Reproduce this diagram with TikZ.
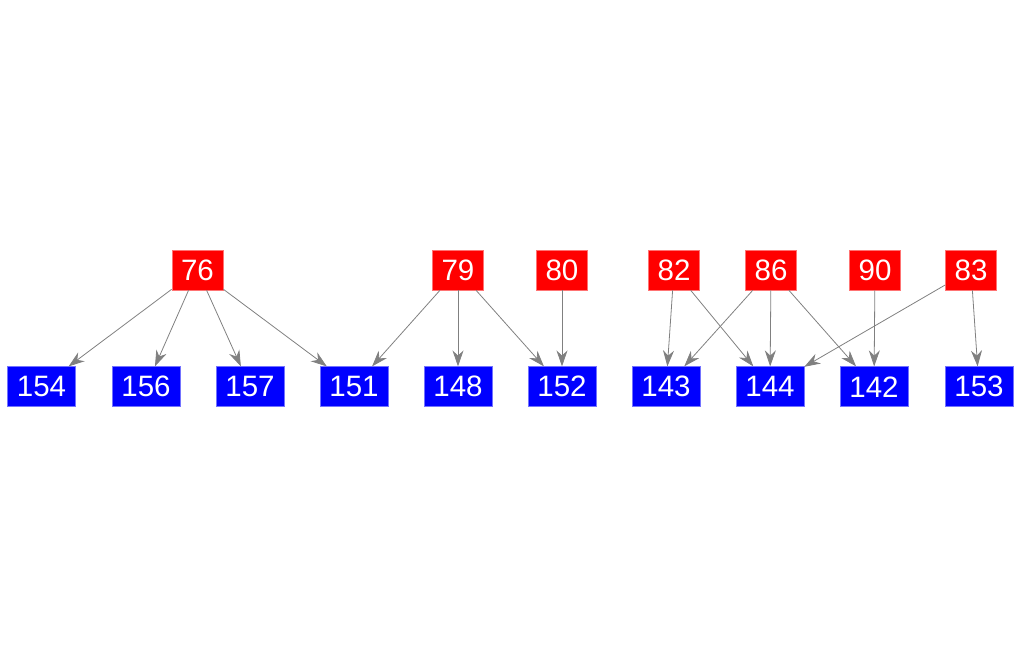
\documentclass[tikz,border=0pt]{standalone}
\usepackage{fontspec}
\setmainfont{Liberation Sans}
\usetikzlibrary{arrows.meta}
\tikzset{
  src/.style={fill=red, draw=red!55, line width=0.6pt, text=white, inner sep=0pt,
    minimum width=51pt, minimum height=40pt, font=\fontsize{29.5}{33}\selectfont},
  dst/.style={fill=blue, draw=blue!55, line width=0.6pt, text=white, inner sep=0pt,
    minimum width=68pt, minimum height=40pt, font=\fontsize{29.5}{33}\selectfont},
  link/.style={draw=gray, line width=0.8pt, -{Stealth[length=16pt,width=11pt]}}
}
\begin{document}
\begin{tikzpicture}[x=1pt,y=-1pt]
      \useasboundingbox (0,0) rectangle (1021,656);
      \path
        (197.5,270) node[src] (76){76}
        (458,270) node[src] (79){79}
        (562,270) node[src] (80){80}
        (674,270) node[src] (82){82}
        (771,270) node[src] (86){86}
        (875,270) node[src] (90){90}
        (971,270) node[src] (83){83};
      \path
        (41.5,386.7) node[dst] (154){154}
        (146,386.7) node[dst] (156){156}
        (250,386.7) node[dst] (157){157}
        (354,386.7) node[dst] (151){151}
        (458,386.7) node[dst] (148){148}
        (562,386.7) node[dst] (152){152}
        (666,386.7) node[dst] (143){143}
        (770,386.7) node[dst] (144){144}
        (874,386.7) node[dst] (142){142}
        (979,386.7) node[dst] (153){153};
      \begin{scope}[link]
        \draw (76) to (154);
        \draw (76) to (156);
        \draw (76) to (157);
        \draw (76) to (151);
        \draw (79) to (151);
        \draw (79) to (148);
        \draw (79) to (152);
        \draw (80) to (152);
        \draw (82) to (143);
        \draw (82) to (144);
        \draw (86) to (143);
        \draw (86) to (144);
        \draw (86) to (142);
        \draw (90) to (142);
        \draw (83) to (144);
        \draw (83) to (153);
      \end{scope}
    \end{tikzpicture}
\end{document}
